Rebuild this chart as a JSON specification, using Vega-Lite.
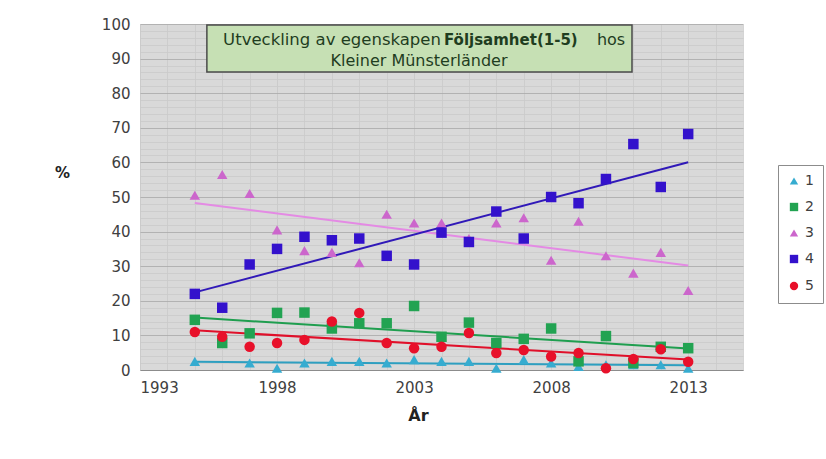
{
  "$schema": "https://vega.github.io/schema/vega-lite/v6.json",
  "autosize": {"type": "none"},
  "padding": {"left": 140, "top": 24, "right": 83, "bottom": 89},
  "width": 603,
  "height": 346,
  "background": "white",
  "config": {
    "font": "DejaVu Sans",
    "view": {"fill": "#d9d9d9", "stroke": null}
  },
  "datasets": {
    "pts": [
      {"year": 1995, "s": "1", "v": 2.5}, {"year": 1997, "s": "1", "v": 2}, {"year": 1998, "s": "1", "v": 0.5}, {"year": 1999, "s": "1", "v": 2}, {"year": 2000, "s": "1", "v": 2.5}, {"year": 2001, "s": "1", "v": 2.5}, {"year": 2002, "s": "1", "v": 2}, {"year": 2003, "s": "1", "v": 3}, {"year": 2004, "s": "1", "v": 2.5}, {"year": 2005, "s": "1", "v": 2.5}, {"year": 2006, "s": "1", "v": 0.5}, {"year": 2007, "s": "1", "v": 3}, {"year": 2008, "s": "1", "v": 2}, {"year": 2009, "s": "1", "v": 1}, {"year": 2010, "s": "1", "v": 1.5}, {"year": 2011, "s": "1", "v": 1.5}, {"year": 2012, "s": "1", "v": 1.5}, {"year": 2013, "s": "1", "v": 0.5},
      {"year": 1995, "s": "2", "v": 14.5}, {"year": 1996, "s": "2", "v": 7.8}, {"year": 1997, "s": "2", "v": 10.6}, {"year": 1998, "s": "2", "v": 16.5}, {"year": 1999, "s": "2", "v": 16.6}, {"year": 2000, "s": "2", "v": 12}, {"year": 2001, "s": "2", "v": 13.5}, {"year": 2002, "s": "2", "v": 13.5}, {"year": 2003, "s": "2", "v": 18.5}, {"year": 2004, "s": "2", "v": 9.6}, {"year": 2005, "s": "2", "v": 13.7}, {"year": 2006, "s": "2", "v": 7.8}, {"year": 2007, "s": "2", "v": 9}, {"year": 2008, "s": "2", "v": 12}, {"year": 2009, "s": "2", "v": 2.5}, {"year": 2010, "s": "2", "v": 9.8}, {"year": 2011, "s": "2", "v": 2}, {"year": 2012, "s": "2", "v": 6.7}, {"year": 2013, "s": "2", "v": 6.3},
      {"year": 1995, "s": "3", "v": 50.5}, {"year": 1996, "s": "3", "v": 56.5}, {"year": 1997, "s": "3", "v": 51}, {"year": 1998, "s": "3", "v": 40.5}, {"year": 1999, "s": "3", "v": 34.5}, {"year": 2000, "s": "3", "v": 34}, {"year": 2001, "s": "3", "v": 31}, {"year": 2002, "s": "3", "v": 45}, {"year": 2003, "s": "3", "v": 42.5}, {"year": 2004, "s": "3", "v": 42.5}, {"year": 2005, "s": "3", "v": 38}, {"year": 2006, "s": "3", "v": 42.5}, {"year": 2007, "s": "3", "v": 44}, {"year": 2008, "s": "3", "v": 31.7}, {"year": 2009, "s": "3", "v": 43}, {"year": 2010, "s": "3", "v": 33}, {"year": 2011, "s": "3", "v": 28}, {"year": 2012, "s": "3", "v": 34}, {"year": 2013, "s": "3", "v": 23},
      {"year": 1995, "s": "4", "v": 22}, {"year": 1996, "s": "4", "v": 18}, {"year": 1997, "s": "4", "v": 30.5}, {"year": 1998, "s": "4", "v": 35}, {"year": 1999, "s": "4", "v": 38.5}, {"year": 2000, "s": "4", "v": 37.5}, {"year": 2001, "s": "4", "v": 38}, {"year": 2002, "s": "4", "v": 33}, {"year": 2003, "s": "4", "v": 30.5}, {"year": 2004, "s": "4", "v": 39.7}, {"year": 2005, "s": "4", "v": 37}, {"year": 2006, "s": "4", "v": 45.8}, {"year": 2007, "s": "4", "v": 38}, {"year": 2008, "s": "4", "v": 50}, {"year": 2009, "s": "4", "v": 48.2}, {"year": 2010, "s": "4", "v": 55.2}, {"year": 2011, "s": "4", "v": 65.3}, {"year": 2012, "s": "4", "v": 52.9}, {"year": 2013, "s": "4", "v": 68.2},
      {"year": 1995, "s": "5", "v": 11}, {"year": 1996, "s": "5", "v": 9.6}, {"year": 1997, "s": "5", "v": 6.7}, {"year": 1998, "s": "5", "v": 7.8}, {"year": 1999, "s": "5", "v": 8.7}, {"year": 2000, "s": "5", "v": 14}, {"year": 2001, "s": "5", "v": 16.5}, {"year": 2002, "s": "5", "v": 7.8}, {"year": 2003, "s": "5", "v": 6.3}, {"year": 2004, "s": "5", "v": 6.7}, {"year": 2005, "s": "5", "v": 10.7}, {"year": 2006, "s": "5", "v": 4.9}, {"year": 2007, "s": "5", "v": 5.8}, {"year": 2008, "s": "5", "v": 3.9}, {"year": 2009, "s": "5", "v": 4.9}, {"year": 2010, "s": "5", "v": 0.5}, {"year": 2011, "s": "5", "v": 3.2}, {"year": 2012, "s": "5", "v": 6}, {"year": 2013, "s": "5", "v": 2.4}
    ],
    "box": [{"x1": 1995.44, "x2": 2010.95, "y1": 86.1, "y2": 99.7}],
    "t1": [{"x": 2003.98, "y": 95.5, "t": "Utveckling av egenskapen"}],
    "t2": [{"x": 2004.09, "y": 95.5, "t": "Följsamhet(1-5)"}],
    "t3": [{"x": 2009.67, "y": 95.5, "t": "hos"}],
    "t4": [{"x": 2003.18, "y": 89.2, "t": "Kleiner Münsterländer"}]
  },
  "layer": [
    {
      "data": {"name": "pts"},
      "transform": [{"regression": "v", "on": "year", "groupby": ["s"], "extent": [1995, 2013]}],
      "mark": {"type": "line", "strokeWidth": 2, "clip": true},
      "encoding": {
        "x": {"field": "year", "type": "quantitative", "scale": {"domain": [1993, 2015], "nice": false, "zero": false},
          "axis": {"values": [1993, 1998, 2003, 2008, 2013], "format": "d", "grid": true, "gridColor": "#c8c8c8", "gridWidth": 0.8,
            "domainColor": "#8c8c8c", "ticks": false, "labelFontSize": 15, "labelColor": "#404040", "labelPadding": 10,
            "title": "År", "titleFontSize": 16, "titleFontWeight": "bold", "titleColor": "#222", "titleX": 278, "titleY": 45, "titleBaseline": "middle"}},
        "y": {"field": "v", "type": "quantitative", "scale": {"domain": [0, 100], "nice": false},
          "axis": {"values": [0, 10, 20, 30, 40, 50, 60, 70, 80, 90, 100],
            "grid": true, "gridColor": "#a8a8a8", "gridWidth": 0.8, "domain": false, "ticks": false, "labelFontSize": 15, "labelColor": "#404040", "labelPadding": 10,
            "title": "%", "titleAngle": 0, "titleFontSize": 15, "titleFontWeight": "bold", "titleColor": "#222", "titleX": -78, "titleY": 148, "titleAlign": "center", "titleBaseline": "middle"}},
        "color": {"field": "s", "type": "nominal", "scale": {"domain": ["1","2","3","4","5"], "range": ["#2e9fc0", "#1f9e4f", "#e48ae4", "#3019b8", "#e0102a"]}, "legend": null}
      }
    },
    {
      "data": {"name": "pts"},
      "mark": {"type": "point", "filled": true, "opacity": 1},
      "encoding": {
        "x": {"field": "year", "type": "quantitative",
          "axis": {"values": [1994,1995,1996,1997,1999,2000,2001,2002,2004,2005,2006,2007,2009,2010,2011,2012,2014,2015], "orient": "bottom", "labels": false, "ticks": false, "domain": false, "title": null, "grid": true, "gridColor": "#cacaca", "gridWidth": 0.8}},
        "y": {"field": "v", "type": "quantitative",
          "axis": {"values": [2,4,6,8,12,14,16,18,22,24,26,28,32,34,36,38,42,44,46,48,52,54,56,58,62,64,66,68,72,74,76,78,82,84,86,88,92,94,96,98], "orient": "left", "labels": false, "ticks": false, "domain": false, "title": null, "grid": true, "gridColor": "#cacaca", "gridWidth": 0.8}},
        "fill": {"field": "s", "type": "nominal", "scale": {"domain": ["1","2","3","4","5"], "range": ["#36acd0", "#22a352", "#cc66cc", "#3311cc", "#e8102a"]},
          "legend": {"title": null, "orient": "none", "legendX": 638, "legendY": 141, "strokeColor": "#8c8c8c", "padding": 9, "rowPadding": 11, "labelFontSize": 14, "labelColor": "#404040", "symbolSize": 70, "fillColor": "white"}},
        "shape": {"field": "s", "type": "nominal", "scale": {"domain": ["1","2","3","4","5"], "range": ["triangle-up", "square", "triangle-up", "square", "circle"]},
          "legend": {"title": null, "orient": "none", "legendX": 638, "legendY": 141, "strokeColor": "#8c8c8c", "padding": 9, "rowPadding": 11, "labelFontSize": 14, "labelColor": "#404040", "symbolSize": 70, "fillColor": "white"}},
        "size": {"value": 110}
      }
    },
    {
      "data": {"name": "box"},
      "mark": {"type": "rect", "fill": "#c6e0b4", "stroke": "#4a4a4a", "strokeWidth": 1.5},
      "encoding": {"x": {"field": "x1", "type": "quantitative", "axis": null}, "x2": {"field": "x2"}, "y": {"field": "y1", "type": "quantitative", "axis": null}, "y2": {"field": "y2"}}
    },
    {
      "data": {"name": "t1"},
      "mark": {"type": "text", "align": "right", "baseline": "middle", "fontSize": 16.5, "color": "#1f3d1f"},
      "encoding": {"x": {"field": "x", "type": "quantitative", "axis": null}, "y": {"field": "y", "type": "quantitative", "axis": null}, "text": {"field": "t"}}
    },
    {
      "data": {"name": "t2"},
      "mark": {"type": "text", "align": "left", "baseline": "middle", "fontSize": 15, "fontWeight": "bold", "color": "#1f3d1f"},
      "encoding": {"x": {"field": "x", "type": "quantitative", "axis": null}, "y": {"field": "y", "type": "quantitative", "axis": null}, "text": {"field": "t"}}
    },
    {
      "data": {"name": "t3"},
      "mark": {"type": "text", "align": "left", "baseline": "middle", "fontSize": 16, "color": "#1f3d1f"},
      "encoding": {"x": {"field": "x", "type": "quantitative", "axis": null}, "y": {"field": "y", "type": "quantitative", "axis": null}, "text": {"field": "t"}}
    },
    {
      "data": {"name": "t4"},
      "mark": {"type": "text", "align": "center", "baseline": "middle", "fontSize": 16, "color": "#1f3d1f"},
      "encoding": {"x": {"field": "x", "type": "quantitative", "axis": null}, "y": {"field": "y", "type": "quantitative", "axis": null}, "text": {"field": "t"}}
    }
  ],
  "resolve": {"scale": {"color": "independent"}, "axis": {"x": "independent", "y": "independent"}}
}
